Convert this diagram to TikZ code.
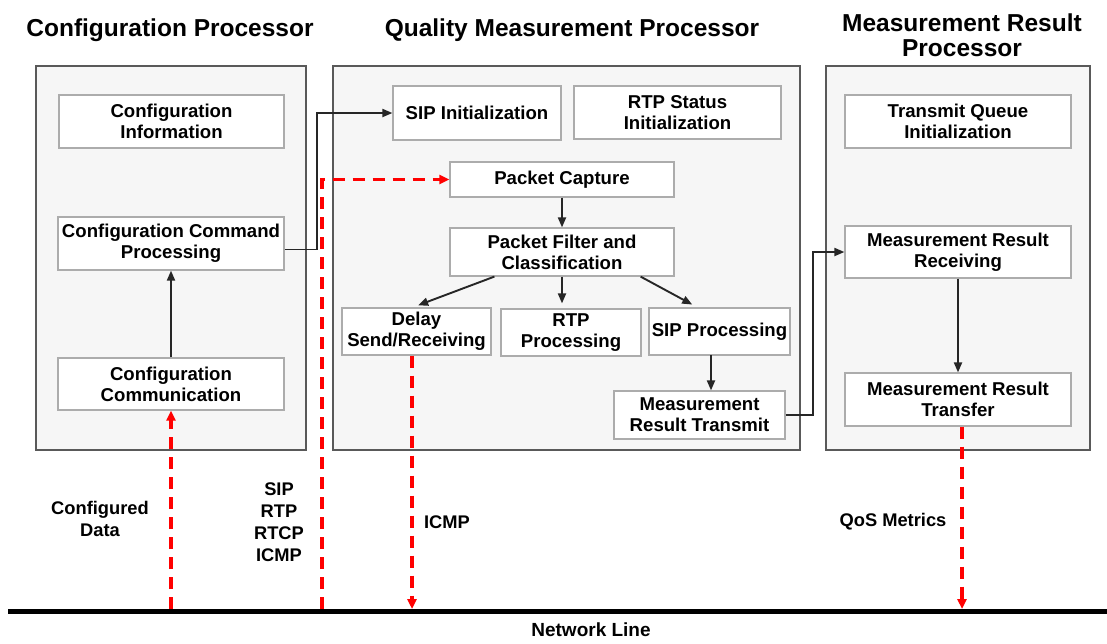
\documentclass[tikz,border=0pt]{standalone}
\usepackage{fontspec}
\setmainfont{Liberation Sans}
\usetikzlibrary{arrows.meta}
\tikzset{
  cont/.style={draw=gray!70!black, fill=gray!7, line width=1.4pt},
  box/.style={draw=gray!65, fill=white, line width=1.2pt, align=center, inner sep=0pt,
    font=\bfseries\fontsize{18.6}{21}\selectfont},
  lbl/.style={align=center, inner sep=0pt, font=\bfseries\fontsize{18.3}{22}\selectfont},
  ttl/.style={align=center, inner sep=0pt, font=\bfseries\fontsize{24.5}{25}\selectfont},
  arr/.style={-{Triangle[length=10pt,width=8pt]}, line width=1.9pt, black!85},
  rdash/.style={draw={rgb,255:red,255;green,0;blue,0}, dash pattern=on 12pt off 8pt, line width=3.2pt,
    -{Triangle[length=10pt,width=9pt]}},
}
\begin{document}
\begin{tikzpicture}[x=1pt,y=-1pt]
\useasboundingbox (0,0) rectangle (1107,643);
% titles
\node[ttl] (t1) at (170,30) {Configuration Processor};
\node[ttl] (t2) at (572,30) {Quality Measurement Processor};
\node[ttl] (t3) at (962,35) {Measurement Result\\Processor};
% containers
\node[cont, minimum width=270pt, minimum height=384pt] (cp) at (171,258) {};
\node[cont, minimum width=467pt, minimum height=384pt] (qmp) at (566.5,258) {};
\node[cont, minimum width=264pt, minimum height=384pt] (mrp) at (958,258) {};
% config processor boxes
\node[box, minimum width=225pt, minimum height=53pt] (ci) at (171.5,121.5) {Configuration\\Information};
\node[box, minimum width=226pt, minimum height=53pt] (ccp) at (171,243.5) {Configuration Command\\Processing};
\node[box, minimum width=226pt, minimum height=52pt] (cc) at (171,384) {Configuration\\Communication};
% quality measurement processor boxes
\node[box, minimum width=168pt, minimum height=54pt] (sip) at (477,113) {SIP Initialization};
\node[box, minimum width=207pt, minimum height=53pt] (rtps) at (677.5,112.5) {RTP Status\\Initialization};
\node[box, minimum width=224pt, minimum height=35pt] (pc) at (562,179.5) {Packet Capture};
\node[box, minimum width=224pt, minimum height=48pt] (pf) at (562,252) {Packet Filter and\\Classification};
\node[box, minimum width=149pt, minimum height=47pt] (dsr) at (416.5,331.5) {Delay\\Send/Receiving};
\node[box, minimum width=140pt, minimum height=47pt] (rtp) at (571,332.5) {RTP\\Processing};
\node[box, minimum width=141pt, minimum height=47pt] (sipp) at (719.5,331.5) {SIP Processing};
\node[box, minimum width=171pt, minimum height=48pt] (mrt) at (699.5,415) {Measurement\\Result Transmit};
% measurement result processor boxes
\node[box, minimum width=226pt, minimum height=53pt] (tqi) at (958,121.5) {Transmit Queue\\Initialization};
\node[box, minimum width=226pt, minimum height=52pt] (mrr) at (958,252) {Measurement Result\\Receiving};
\node[box, minimum width=226pt, minimum height=53pt] (mrtr) at (958,399.5) {Measurement Result\\Transfer};
% network line
\coordinate (nlA) at (8,611);
\coordinate (nlB) at (1107,611);
\draw[line width=5pt] (nlA) -- (nlB);
\node[lbl, font=\bfseries\fontsize{19}{22}\selectfont] (nl) at (591,630) {Network Line};
\coordinate (n1) at (171,609);
\coordinate (n2) at (322,609);
\coordinate (n3) at (412,609);
\coordinate (n4) at (962,609);
% black arrows
\draw[arr] (cc.north) -- (ccp.south);
\draw[arr] ([yshift=-6pt]ccp.east) -- ++(32,0) |- (sip.west);
\draw[arr] (pc.south) -- (pf.north);
\draw[arr, shorten >=6pt] ([xshift=45pt]pf.south west) -- ([xshift=-4pt]dsr.north);
\draw[arr, shorten >=5pt] (pf.south) -- (pf.south |- rtp.north);
\draw[arr, shorten >=6pt] ([xshift=-34pt]pf.south east) -- ([xshift=-22pt]sipp.north);
\coordinate (sx) at (711,355);
\draw[arr] (sx) -- (sx |- mrt.north);
\draw[arr] (mrt.east) -- ++(27,0) |- (mrr.west);
\draw[arr] (mrr.south) -- (mrtr.north);
% red dashed arrows
\draw[rdash] (n1) -- (cc.south);
\draw[rdash] (n2) |- (pc.west);
\draw[rdash] ([xshift=-4.5pt]dsr.south) -- (n3);
\draw[rdash] ([xshift=4pt]mrtr.south) -- (n4);
% labels
\node[lbl] (l1) at (100,519) {Configured\\Data};
\node[lbl] (l2) at (279,522) {SIP\\RTP\\RTCP\\ICMP};
\node[lbl] (l3) at (447,522) {ICMP};
\node[lbl] (l4) at (893,522) {QoS Metrics};
\end{tikzpicture}
\end{document}
